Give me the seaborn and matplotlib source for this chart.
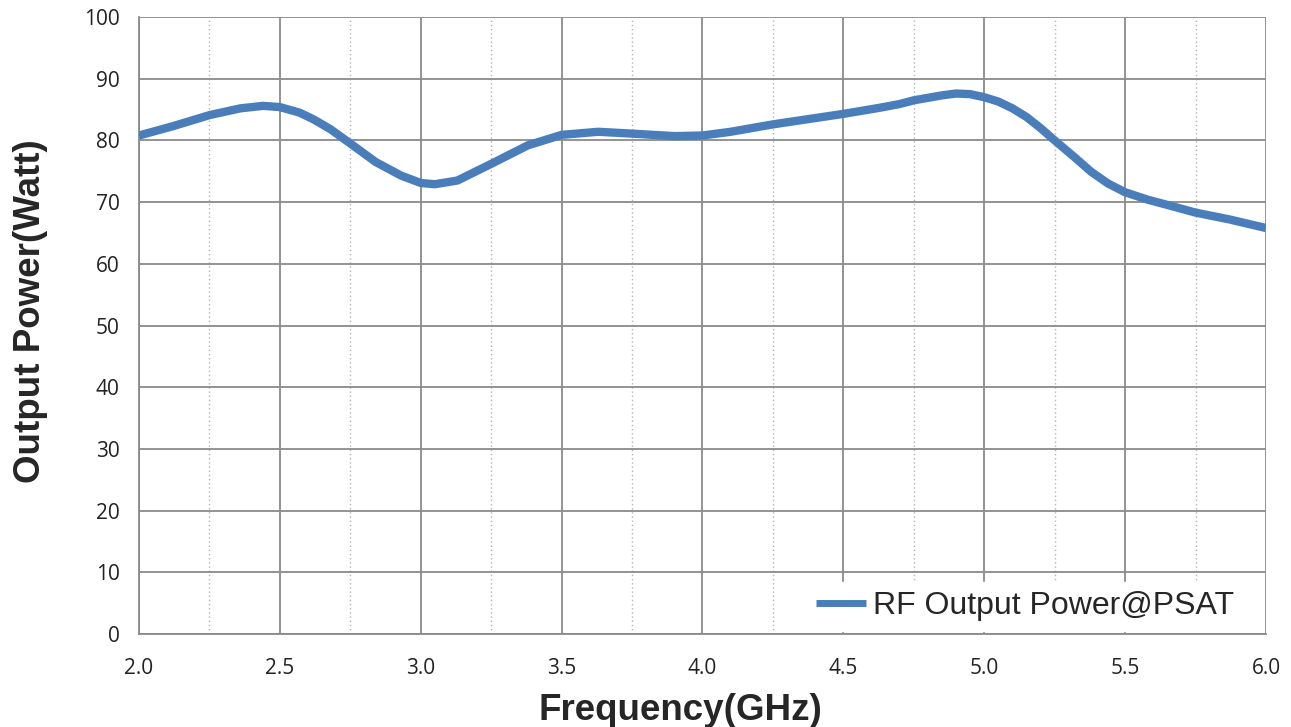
import numpy as np
import pandas as pd
import seaborn as sns
import matplotlib.pyplot as plt
from matplotlib.ticker import MultipleLocator

# values
freq_ghz = [2.0, 2.12, 2.25, 2.36, 2.44, 2.5, 2.57, 2.62, 2.68, 2.75, 2.84, 2.93,
            3.0, 3.05, 3.13, 3.25, 3.38, 3.5, 3.63, 3.75, 3.9, 4.0, 4.1, 4.25,
            4.5, 4.63, 4.7, 4.75, 4.85, 4.9, 4.95, 5.0, 5.05, 5.1, 5.15, 5.2,
            5.25, 5.32, 5.38, 5.44, 5.5, 5.58, 5.67, 5.75, 5.87, 6.0]
power_watt = [80.8, 82.3, 84.1, 85.2, 85.6, 85.4, 84.5, 83.4, 81.8, 79.5, 76.5, 74.3,
              73.1, 72.9, 73.5, 76.2, 79.2, 80.9, 81.4, 81.1, 80.7, 80.8, 81.4, 82.6,
              84.3, 85.3, 85.9, 86.5, 87.3, 87.6, 87.5, 87.0, 86.3, 85.2, 83.8, 82.0,
              80.0, 77.3, 74.9, 73.0, 71.6, 70.4, 69.3, 68.3, 67.2, 65.8]
series_name = 'RF Output Power@PSAT'

df = pd.DataFrame({'freq': freq_ghz, 'power': power_watt, 'series': series_name})

sns.set_style('white')
plt.rcParams['font.family'] = ['Open Sans', 'DejaVu Sans']

fig = plt.figure(figsize=(12.91, 7.27), dpi=100)
ax = fig.add_axes([0.1077, 0.1279, 0.8729, 0.8487])

sns.lineplot(data=df, x='freq', y='power', hue='series', palette=['#4A7EBB'],
             linewidth=6, ax=ax, zorder=3, solid_joinstyle='round', solid_capstyle='butt')

ax.set_xlim(2.0, 6.0)
ax.set_ylim(0, 100)
ax.xaxis.set_major_locator(MultipleLocator(0.5))
ax.xaxis.set_minor_locator(MultipleLocator(0.25))
ax.yaxis.set_major_locator(MultipleLocator(10))
ax.xaxis.set_major_formatter(plt.FormatStrFormatter('%.1f'))

# grid: solid majors, dotted minors on x
ax.grid(which='major', axis='both', color='#8a8a8a', linewidth=1.3, linestyle='-')
ax.grid(which='minor', axis='x', color='#b5b5b5', linewidth=1.0, linestyle=(0, (1, 2)))
ax.set_axisbelow(True)

for side in ['top', 'right']:
    ax.spines[side].set_visible(False)
for side in ['left', 'bottom']:
    ax.spines[side].set_color('#8a8a8a')
    ax.spines[side].set_linewidth(1.3)

ax.tick_params(axis='x', which='major', direction='in', length=4, color='#8a8a8a',
               labelsize=15, pad=17, labelcolor='#222222')
ax.tick_params(axis='x', which='minor', length=0)
ax.tick_params(axis='y', which='major', length=0, labelsize=15, pad=14, labelcolor='#222222')

ax.set_xlabel('Frequency(GHz)', fontsize=26.5, fontweight='bold',
              family=['Liberation Sans', 'DejaVu Sans'])
ax.set_ylabel('Output Power(Watt)', fontsize=26.5, fontweight='bold',
              family=['Liberation Sans', 'DejaVu Sans'])
ax.xaxis.set_label_coords(0.48, -0.095)
ax.yaxis.set_label_coords(-0.081, 0.523)

handles, labels = ax.get_legend_handles_labels()
leg = ax.legend(handles, labels, loc='lower right', frameon=True, framealpha=1,
                edgecolor='white', fancybox=False, handlelength=1.56, handletextpad=0.22,
                borderaxespad=0.1, borderpad=0.3,
                bbox_to_anchor=(0.983, 0.0),
                prop={'family': ['Liberation Sans', 'DejaVu Sans'], 'size': 23})
for line in leg.get_lines():
    line.set_linewidth(5)

plt.savefig('out.png', dpi=100)
plt.close()
